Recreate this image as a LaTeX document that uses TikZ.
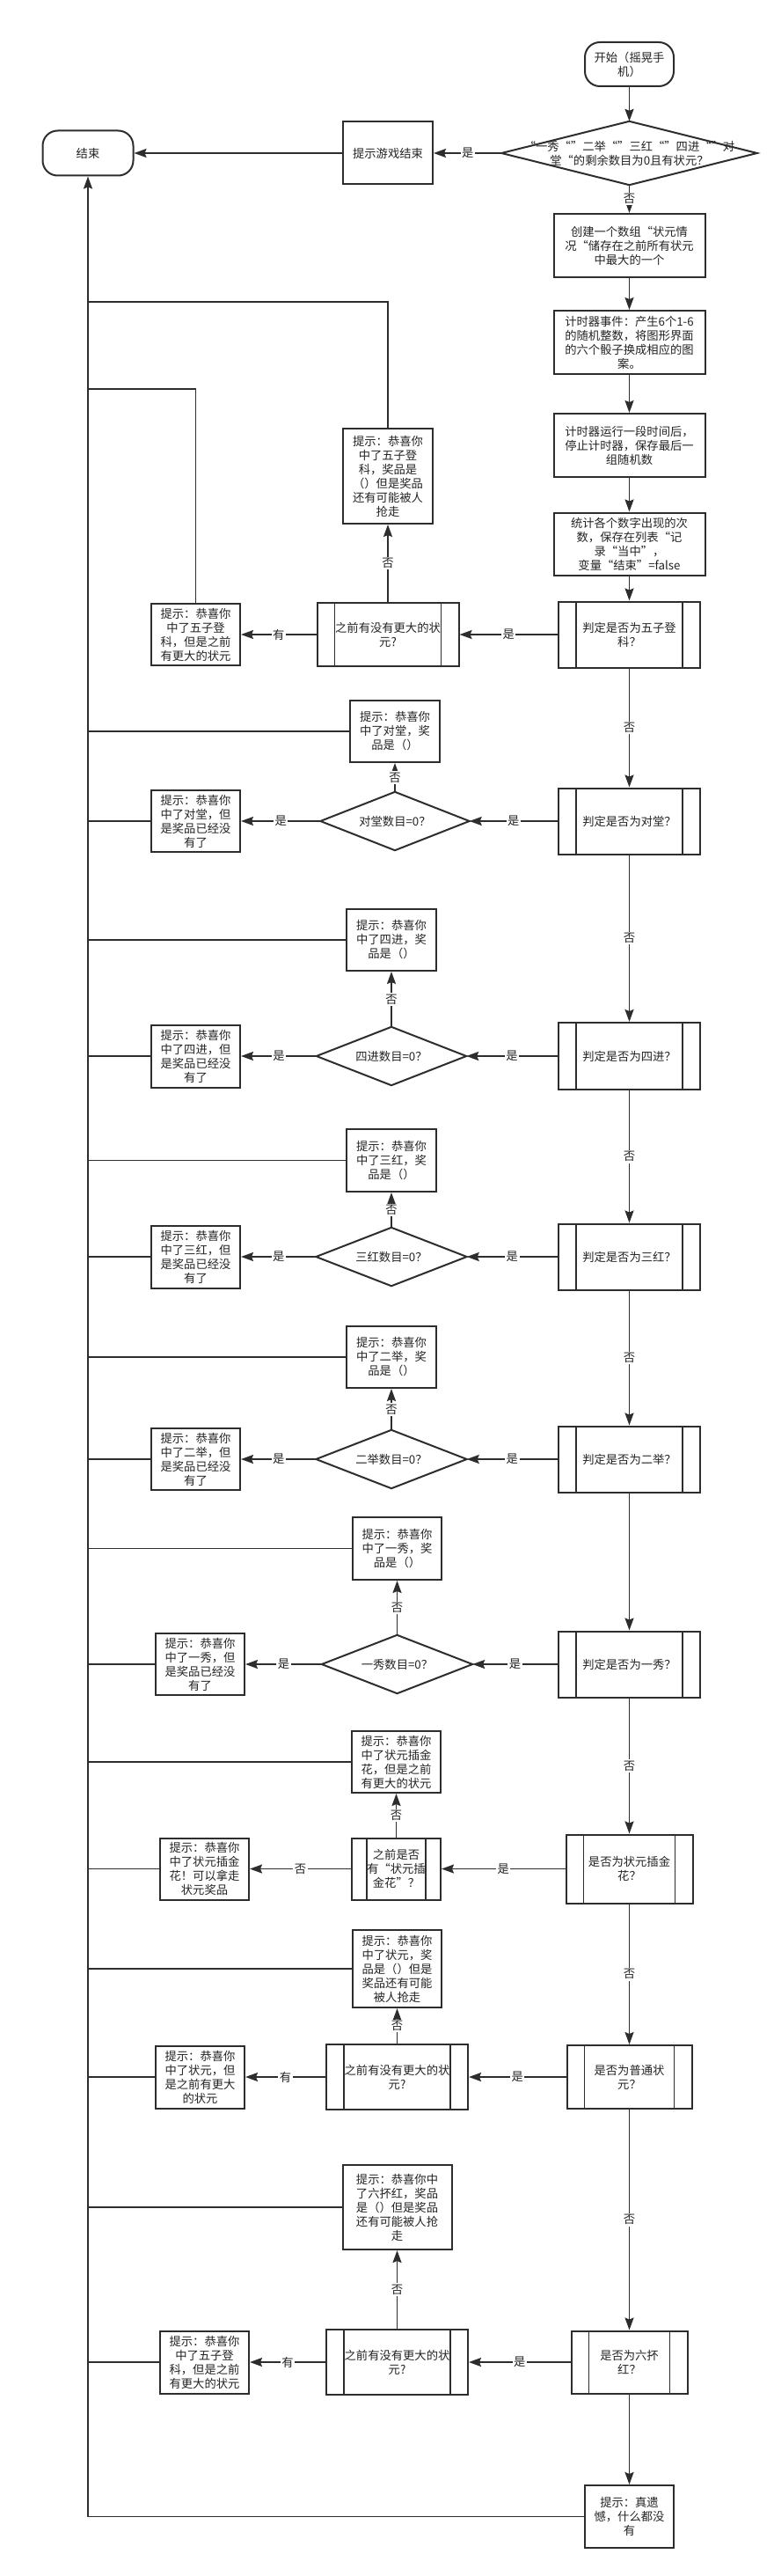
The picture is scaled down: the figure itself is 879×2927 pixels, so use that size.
\documentclass[tikz,border=0pt]{standalone}
\usepackage{fontspec}
\newfontfamily\cjkfont{Noto Sans CJK SC}
\usetikzlibrary{arrows.meta}
\definecolor{ln}{RGB}{45,45,45}
\definecolor{tx}{RGB}{35,35,35}
\begin{document}
\begin{tikzpicture}[x=1pt,y=-1pt,
  every node/.style={font=\cjkfont\fontsize{13.3}{16}\selectfont,text=tx,align=center,inner sep=1pt},
  sz/.style 2 args={minimum width=#1,minimum height=#2},
  bx/.style={draw=ln,line width=2pt},
  term/.style={draw=ln,line width=2pt,rounded corners=17pt},
  pproc/.style={draw=ln,line width=2pt,path picture={
     \draw[ln,line width=1.8pt] ([xshift=#1]path picture bounding box.north west) -- ([xshift=#1]path picture bounding box.south west)
       ([xshift=-#1]path picture bounding box.north east) -- ([xshift=-#1]path picture bounding box.south east);}},
  pproc/.default=20pt,
  shp/.style={draw=ln,line width=2pt,line join=miter},
  arr/.style={draw=ln,line width=1.8pt,-{Stealth[length=14pt,width=10pt,inset=2pt]}},
  conn/.style={draw=ln,line width=1.6pt},
  lbl/.style={fill=white,inner sep=1.5pt}
]
\useasboundingbox (0,0) rectangle (879,2927);

% top part
\node[term,sz={101pt}{50pt}] (start) at (715.5,73) {开始（摇晃手\\机）};
\node[term,sz={103pt}{51pt}] (end) at (100,174) {结束};
\node[sz={290pt}{72pt}] (q0) at (715.5,174) {“一秀“”二举“”三红“”四进“”对\\堂“的剩余数目为0且有状元？};
\node[bx,sz={102pt}{71pt}] (over) at (441,174) {提示游戏结束};
\node[bx,sz={172pt}{72pt}] (create) at (715.5,279) {创建一个数组“状元情\\况“储存在之前所有状元\\中最大的一个};
\node[bx,sz={172pt}{72pt}] (timer) at (715.5,389) {计时器事件：产生6个1-6\\的随机整数，将图形界面\\的六个骰子换成相应的图\\案。};
\node[bx,sz={172pt}{72pt}] (run) at (715.5,506) {计时器运行一段时间后，\\停止计时器，保存最后一\\组随机数};
\node[bx,sz={172pt}{71pt}] (count) at (715.5,618) {统计各个数字出现的次\\数，保存在列表“记\\录“当中”，\\变量“结束”=false};
\coordinate (c1) at (100,343);
\coordinate (c2) at (100,442);

% row 1
\node[pproc,sz={161pt}{75pt}] (j1) at (715.5,721) {判定是否为五子登\\科？};
\node[pproc,sz={161pt}{72pt}] (p1) at (441,721) {之前有没有更大的状\\元?};
\node[bx,sz={101pt}{70pt}] (t1l) at (222.5,721) {提示：恭喜你\\中了五子登\\科，但是之前\\有更大的状元};
\node[bx,sz={102pt}{108pt}] (t1u) at (441,541) {提示：恭喜你\\中了五子登\\科，奖品是\\（）但是奖品\\还有可能被人\\抢走};

% row 2
\node[pproc,sz={161pt}{75pt}] (j2) at (715.5,933) {判定是否为对堂？};
\node[sz={169pt}{66pt}] (d2) at (449,933) {对堂数目=0？};
\node[bx,sz={101pt}{70pt}] (t2l) at (222.5,933) {提示：恭喜你\\中了对堂，但\\是奖品已经没\\有了};
\node[bx,sz={102pt}{70pt}] (t2u) at (449,831) {提示：恭喜你\\中了对堂，奖\\品是（）};

% row 3
\node[pproc,sz={161pt}{76pt}] (j3) at (715.5,1200) {判定是否为四进？};
\node[sz={170pt}{66pt}] (d3) at (445,1200) {四进数目=0？};
\node[bx,sz={101pt}{71pt}] (t3l) at (222.5,1200) {提示：恭喜你\\中了四进，但\\是奖品已经没\\有了};
\node[bx,sz={102pt}{70pt}] (t3u) at (445,1068) {提示：恭喜你\\中了四进，奖\\品是（）};

% row 4
\node[pproc,sz={161pt}{75pt}] (j4) at (715.5,1428) {判定是否为三红？};
\node[sz={171pt}{66pt}] (d4) at (445,1428) {三红数目=0？};
\node[bx,sz={101pt}{71pt}] (t4l) at (222.5,1428) {提示：恭喜你\\中了三红，但\\是奖品已经没\\有了};
\node[bx,sz={102pt}{71pt}] (t4u) at (445,1318.5) {提示：恭喜你\\中了三红，奖\\品是（）};

% row 5
\node[pproc,sz={161pt}{75pt}] (j5) at (715.5,1658) {判定是否为二举？};
\node[sz={171pt}{66pt}] (d5) at (445,1658) {二举数目=0？};
\node[bx,sz={101pt}{70pt}] (t5l) at (222.5,1658) {提示：恭喜你\\中了二举，但\\是奖品已经没\\有了};
\node[bx,sz={102pt}{70pt}] (t5u) at (445,1542) {提示：恭喜你\\中了二举，奖\\品是（）};

% row 6
\node[pproc,sz={161pt}{75pt}] (j6) at (715.5,1891) {判定是否为一秀？};
\node[sz={171pt}{66pt}] (d6) at (451.5,1891) {一秀数目=0？};
\node[bx,sz={101pt}{70pt}] (t6l) at (227.5,1891) {提示：恭喜你\\中了一秀，但\\是奖品已经没\\有了};
\node[bx,sz={101pt}{71pt}] (t6u) at (451.5,1759.5) {提示：恭喜你\\中了一秀，奖\\品是（）};

% row 7
\node[pproc,sz={144pt}{78pt}] (j7) at (715.5,2123.5) {是否为状元插金\\花？};
\node[pproc=17pt,sz={101pt}{70pt}] (p7) at (450.5,2123.5) {之前是否\\有“状元插\\金花”？};
\node[bx,sz={101pt}{70pt}] (t7l) at (232.5,2123.5) {提示：恭喜你\\中了状元插金\\花！可以拿走\\状元奖品};
\node[bx,sz={101pt}{70pt}] (t7u) at (450.5,2002) {提示：恭喜你\\中了状元插金\\花，但是之前\\有更大的状元};

% row 8
\node[pproc,sz={142pt}{72pt}] (j8) at (715.5,2360) {是否为普通状\\元？};
\node[pproc,sz={161pt}{74pt}] (p8) at (451.5,2360) {之前有没有更大的状\\元?};
\node[bx,sz={101pt}{71pt}] (t8l) at (227.5,2360) {提示：恭喜你\\中了状元，但\\是之前有更大\\的状元};
\node[bx,sz={101pt}{88pt}] (t8u) at (451.5,2237) {提示：恭喜你\\中了状元，奖\\品是（）但是\\奖品还有可能\\被人抢走};

% row 9
\node[pproc,sz={132pt}{71pt}] (j9) at (715.5,2684) {是否为六抔\\红？};
\node[pproc,sz={161pt}{74pt}] (p9) at (451.5,2684) {之前有没有更大的状\\元?};
\node[bx,sz={101pt}{71pt}] (t9l) at (232.5,2684) {提示：恭喜你\\中了五子登\\科，但是之前\\有更大的状元};
\node[bx,sz={124pt}{96pt}] (t9u) at (451.5,2508) {提示：恭喜你中\\了六抔红，奖品\\是（）但是奖品\\还有可能被人抢\\走};
\node[bx,sz={101pt}{71pt}] (fin) at (715.5,2859.5) {提示：真遗\\憾，什么都没\\有};

% diamonds
\foreach \d in {q0,d2,d3,d4,d5,d6}
  \draw[shp] (\d.west) -- (\d.north) -- (\d.east) -- (\d.south) -- cycle;

% main column
\draw[arr] (start.south) -- (q0.north);
\draw[arr] (q0.west) -- node[lbl]{是} (over.east);
\draw[arr] (over.west) -- (end.east);
\draw[arr] (q0.south) -- node[lbl]{否} (create.north);
\draw[arr] (create.south) -- (timer.north);
\draw[arr] (timer.south) -- (run.north);
\draw[arr] (run.south) -- (count.north);
\draw[arr] (count.south) -- (j1.north);
\draw[arr] (j1.south) -- node[lbl]{否} (j2.north);
\draw[arr] (j2.south) -- node[lbl]{否} (j3.north);
\draw[arr] (j3.south) -- node[lbl]{否} (j4.north);
\draw[arr] (j4.south) -- node[lbl]{否} (j5.north);
\draw[arr] (j5.south) -- (j6.north);
\draw[arr] (j6.south) -- node[lbl]{否} (j7.north);
\draw[arr] (j7.south) -- node[lbl]{否} (j8.north);
\draw[arr] (j8.south) -- node[lbl]{否} (j9.north);
\draw[arr] (j9.south) -- (fin.north);

% row 1
\draw[arr] (j1.west) -- node[lbl]{是} (p1.east);
\draw[arr] (p1.west) -- node[lbl]{有} (t1l.east);
\draw[arr] (p1.north) -- node[lbl]{否} (t1u.south);
\draw[conn] (t1u.north) |- (c1);
\draw[conn] (t1l.north) |- (c2);

% rows with diamonds
\foreach \k in {2,3,4,5,6} {
  \draw[arr] (j\k.west) -- node[lbl]{是} (d\k.east);
  \draw[arr] (d\k.west) -- node[lbl]{是} (t\k l.east);
  \draw[arr] (d\k.north) -- node[lbl]{否} (t\k u.south);
  \draw[conn] (t\k u.west) -- (t\k u.west -| end.south);
  \draw[conn] (t\k l.west) -- (t\k l.west -| end.south);
}

% row 7
\draw[arr] (j7.west) -- node[lbl]{是} (p7.east);
\draw[arr] (p7.west) -- node[lbl]{否} (t7l.east);
\draw[arr] (p7.north) -- node[lbl]{否} (t7u.south);
\draw[conn] (t7u.west) -- (t7u.west -| end.south);
\draw[conn] (t7l.west) -- (t7l.west -| end.south);

% row 8
\draw[arr] (j8.west) -- node[lbl]{是} (p8.east);
\draw[arr] (p8.west) -- node[lbl]{有} (t8l.east);
\draw[arr] (p8.north) -- node[lbl]{否} (t8u.south);
\draw[conn] (t8u.west) -- (t8u.west -| end.south);
\draw[conn] (t8l.west) -- (t8l.west -| end.south);

% row 9
\draw[arr] (j9.west) -- node[lbl]{是} (p9.east);
\draw[arr] (p9.west) -- node[lbl]{有} (t9l.east);
\draw[arr] (p9.north) -- node[lbl]{否} (t9u.south);
\draw[conn] (t9u.west) -- (t9u.west -| end.south);
\draw[conn] (t9l.west) -- (t9l.west -| end.south);

% return line
\draw[arr] (fin.west) -| (end.south);
\end{tikzpicture}
\end{document}
